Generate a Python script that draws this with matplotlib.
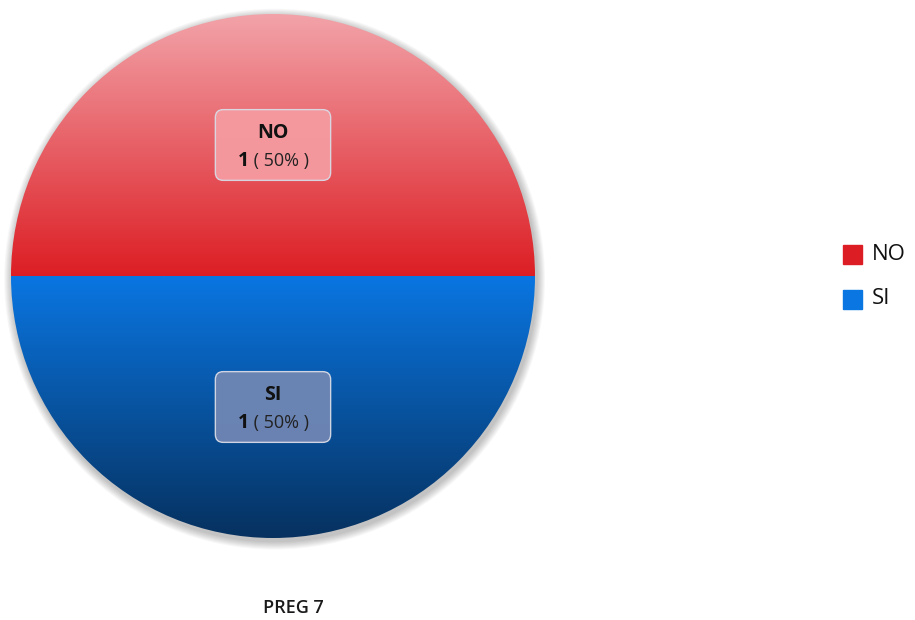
import numpy as np
import matplotlib
matplotlib.use("Agg")
import matplotlib.pyplot as plt
from matplotlib.colors import LinearSegmentedColormap
from matplotlib.patches import FancyBboxPatch, Circle, Rectangle

plt.rcParams['font.family'] = ['Open Sans', 'DejaVu Sans']

labels = ["NO", "SI"]
values = [1, 1]
title = "PREG 7"

# colores (arriba -> abajo del degradado)
grad_colors = {
    "NO": ("#f2a3a9", "#dc1e24"),
    "SI": ("#0a76e2", "#06315f"),
}
legend_colors = {"NO": "#dc1e24", "SI": "#0a76e2"}
box_colors = {"NO": "#f59ba0", "SI": "#6f86b4"}

fig = plt.figure(figsize=(9.15, 6.2), dpi=100)
ax = fig.add_axes([11 / 915, 1 - 538 / 620, 524 / 915, 524 / 620])

wedges, _ = ax.pie(values, startangle=0, counterclock=True, radius=1,
                   wedgeprops=dict(linewidth=0))
ax.set_xlim(-1, 1)
ax.set_ylim(-1, 1)
ax.set_aspect("equal")
ax.axis("off")

# sombra suave (mas marcada abajo)
for k in range(8):
    ax.add_patch(Circle((0.006, -0.012), 1.0 + 0.004 * (k + 1), color="black",
                        alpha=0.03, lw=0, zorder=0, clip_on=False))

total = sum(values)
fig.canvas.draw()
renderer = fig.canvas.get_renderer()
for w, lab, v in zip(wedges, labels, values):
    w.set_facecolor("none")
    top, bottom = grad_colors[lab]
    cmap = LinearSegmentedColormap.from_list(lab, [bottom, top])
    t1, t2 = np.deg2rad(w.theta1), np.deg2rad(w.theta2)
    ys = np.sin(np.linspace(t1, t2, 200))
    y0, y1 = min(ys.min(), 0), max(ys.max(), 0)
    grad = np.linspace(0, 1, 256).reshape(-1, 1)
    im = ax.imshow(grad, cmap=cmap, origin="lower", extent=(-1, 1, y0, y1),
                   aspect="auto", zorder=1)
    im.set_clip_path(w)

    # etiqueta
    mid = np.deg2rad((w.theta1 + w.theta2) / 2)
    cx, cy = 0.5 * np.cos(mid), 0.5 * np.sin(mid)
    bw, bh = 0.44, 0.27
    ax.add_patch(FancyBboxPatch((cx - bw / 2, cy - bh / 2), bw, bh,
                                boxstyle="round,pad=0,rounding_size=0.03",
                                facecolor=box_colors[lab], edgecolor="#d8dbe6",
                                lw=1.0, alpha=0.95, zorder=3))
    ax.text(cx, cy + 0.045, lab, ha="center", va="center", fontsize=14,
            fontweight="bold", color="#111111", zorder=4)
    pct = f" ( {100 * v / total:.0f}% )"
    t_num = ax.text(0, 0, str(v), fontsize=14, fontweight="bold")
    t_pct = ax.text(0, 0, pct, fontsize=13)
    w_num = t_num.get_window_extent(renderer).width
    w_pct = t_pct.get_window_extent(renderer).width
    t_num.remove()
    t_pct.remove()
    px_per_unit = 262.0
    start = cx - (w_num + w_pct) / 2 / px_per_unit
    ax.text(start, cy - 0.06, str(v), ha="left", va="center", fontsize=14,
            fontweight="bold", color="#111111", zorder=4)
    ax.text(start + w_num / px_per_unit, cy - 0.06, pct, ha="left", va="center",
            fontsize=13, color="#222222", zorder=4)

# leyenda
for i, lab in enumerate(labels):
    y = 254 + i * 45
    fig.patches.append(Rectangle((843 / 915, 1 - (y + 10) / 620), 19 / 915, 19 / 620,
                                 transform=fig.transFigure, color=legend_colors[lab]))
    fig.text(872 / 915, 1 - y / 620, lab, ha="left", va="center", fontsize=16,
             color="#111111")

fig.text(293 / 915, 1 - 608 / 620, title, ha="center", va="center",
         fontsize=13, fontweight="semibold", color="#1a1a1a")

fig.savefig("out.png", dpi=100)
